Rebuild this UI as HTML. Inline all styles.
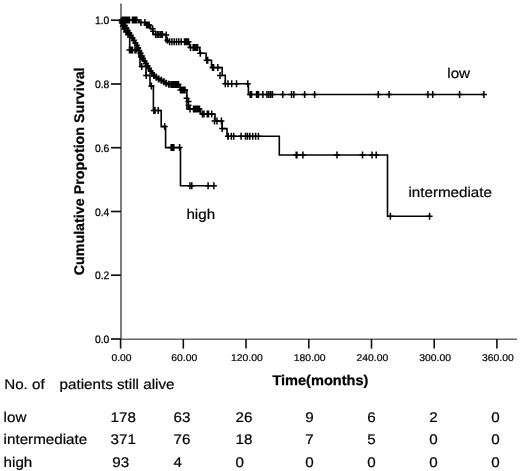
<!DOCTYPE html>
<html><head><meta charset="utf-8"><style>
html,body{margin:0;padding:0;background:#fff;}
body{width:520px;height:471px;overflow:hidden;position:relative;}
svg{position:absolute;left:0;top:0;will-change:transform;}
text{font-family:"Liberation Sans",sans-serif;fill:#000;text-rendering:geometricPrecision;}
.ty{font-size:10.9px;stroke:#000;stroke-width:0.25px;}
.tx{font-size:9.8px;stroke:#000;stroke-width:0.2px;}
.lb{font-size:14px;stroke:#000;stroke-width:0.2px;}
.bt{font-weight:bold;stroke:#000;stroke-width:0.25px;}
.c{fill:none;stroke:#000;stroke-width:1.6;}
.t{fill:none;stroke:#000;stroke-width:1.5;}
</style></head><body>
<svg width="520" height="471" viewBox="0 0 520 471">
<line x1="121" y1="3.5" x2="121" y2="339" stroke="#7d7d7d" stroke-width="2"/>
<line x1="121" y1="339.2" x2="517" y2="339.2" stroke="#666" stroke-width="1.5"/>
<line x1="111" y1="20.2" x2="121" y2="20.2" stroke="#111" stroke-width="1.7"/>
<text transform="translate(109.3,24.2) scale(0.95,1)" text-anchor="end" class="ty">1.0</text>
<line x1="111" y1="84.0" x2="121" y2="84.0" stroke="#111" stroke-width="1.7"/>
<text transform="translate(109.3,88.0) scale(0.95,1)" text-anchor="end" class="ty">0.8</text>
<line x1="111" y1="147.7" x2="121" y2="147.7" stroke="#111" stroke-width="1.7"/>
<text transform="translate(109.3,151.7) scale(0.95,1)" text-anchor="end" class="ty">0.6</text>
<line x1="111" y1="211.5" x2="121" y2="211.5" stroke="#111" stroke-width="1.7"/>
<text transform="translate(109.3,215.5) scale(0.95,1)" text-anchor="end" class="ty">0.4</text>
<line x1="111" y1="275.2" x2="121" y2="275.2" stroke="#111" stroke-width="1.7"/>
<text transform="translate(109.3,279.2) scale(0.95,1)" text-anchor="end" class="ty">0.2</text>
<line x1="111" y1="339.0" x2="121" y2="339.0" stroke="#111" stroke-width="1.7"/>
<text transform="translate(109.3,343.0) scale(0.95,1)" text-anchor="end" class="ty">0.0</text>
<line x1="120.6" y1="339" x2="120.6" y2="348.6" stroke="#111" stroke-width="1.6"/>
<text transform="translate(121.5,360.9) scale(1.06,1)" text-anchor="middle" class="tx">0.00</text>
<line x1="183.3" y1="339" x2="183.3" y2="348.6" stroke="#111" stroke-width="1.6"/>
<text transform="translate(184.2,360.9) scale(1.06,1)" text-anchor="middle" class="tx">60.00</text>
<line x1="246.0" y1="339" x2="246.0" y2="348.6" stroke="#111" stroke-width="1.6"/>
<text transform="translate(246.9,360.9) scale(1.06,1)" text-anchor="middle" class="tx">120.00</text>
<line x1="308.8" y1="339" x2="308.8" y2="348.6" stroke="#111" stroke-width="1.6"/>
<text transform="translate(309.7,360.9) scale(1.06,1)" text-anchor="middle" class="tx">180.00</text>
<line x1="371.5" y1="339" x2="371.5" y2="348.6" stroke="#111" stroke-width="1.6"/>
<text transform="translate(372.4,360.9) scale(1.06,1)" text-anchor="middle" class="tx">240.00</text>
<line x1="434.2" y1="339" x2="434.2" y2="348.6" stroke="#111" stroke-width="1.6"/>
<text transform="translate(435.1,360.9) scale(1.06,1)" text-anchor="middle" class="tx">300.00</text>
<line x1="496.9" y1="339" x2="496.9" y2="348.6" stroke="#111" stroke-width="1.6"/>
<text transform="translate(497.8,360.9) scale(1.06,1)" text-anchor="middle" class="tx">360.00</text>
<polyline points="121.0,20.0 124.5,25.0 128.0,30.9 133.0,38.9 137.0,45.5 139.8,51.7 142.4,57.5 145.8,63.3 149.5,69.2 153.2,75.0 157.5,78.2 162.3,80.8 166.5,83.5 170.0,84.5" fill="none" stroke="#000" stroke-width="1.8" stroke-linejoin="round"/>
<path d="M121.6 17.3V24.3M118.6 20.8H124.6M123.2 19.7V26.7M120.2 23.2H126.2M124.9 22.1V29.1M121.9 25.6H127.9M126.3 24.6V31.6M123.3 28.1H129.3M127.8 27.1V34.1M124.8 30.6H130.8M129.3 29.6V36.6M126.3 33.1H132.3M130.9 32.0V39.0M127.9 35.5H133.9M132.4 34.5V41.5M129.4 38.0H135.4M133.9 36.9V43.9M130.9 40.4H136.9M135.4 39.4V46.4M132.4 42.9H138.4M136.9 41.9V48.9M133.9 45.4H139.9M138.1 44.5V51.5M135.1 48.0H141.1M139.3 47.2V54.2M136.3 50.7H142.3M140.5 49.8V56.8M137.5 53.3H143.5M141.7 52.5V59.5M138.7 56.0H144.7M143.0 55.1V62.1M140.0 58.6H146.0M144.5 57.6V64.6M141.5 61.1H147.5M146.0 60.1V67.1M143.0 63.6H149.0M147.5 62.5V69.5M144.5 66.0H150.5M149.0 65.0V72.0M146.0 68.5H152.0M150.6 67.4V74.4M147.6 70.9H153.6M152.2 69.9V76.9M149.2 73.4H155.2M154.0 72.1V79.1M151.0 75.6H157.0M156.3 73.8V80.8M153.3 77.3H159.3M158.7 75.4V82.4M155.7 78.9H161.7M161.3 76.7V83.7M158.3 80.2H164.3M163.8 78.2V85.2M160.8 81.7H166.8M166.2 79.8V86.8M163.2 83.3H169.2M168.9 80.7V87.7M165.9 84.2H171.9" fill="none" stroke="#000" stroke-width="1.9"/>
<polyline points="121.0,20.0 139.0,20.0 139.0,22.5 145.5,22.5 145.5,25.0 150.5,25.0 150.5,28.7 153.0,28.7 153.0,34.4 166.0,34.4 166.0,41.7 189.5,41.7 189.5,47.5 199.8,47.5 199.8,53.3 206.1,53.3 206.1,60.2 211.5,60.2 211.5,67.6 222.2,67.6 222.2,75.4 225.3,75.4 225.3,83.8 248.4,83.8 248.4,94.5 484.0,94.5" class="c"/>
<path d="M122.5 16.5V23.5M119.5 20.0H125.5M124.0 16.5V23.5M121.0 20.0H127.0M125.5 16.5V23.5M122.5 20.0H128.5M127.0 16.5V23.5M124.0 20.0H130.0M128.5 16.5V23.5M125.5 20.0H131.5M129.5 16.5V23.5M126.5 20.0H132.5M132.5 16.5V23.5M129.5 20.0H135.5M134.0 16.5V23.5M131.0 20.0H137.0M135.5 16.5V23.5M132.5 20.0H138.5M136.8 16.5V23.5M133.8 20.0H139.8M140.9 19.0V26.0M137.9 22.5H143.9M144.9 19.0V26.0M141.9 22.5H147.9M146.6 21.5V28.5M143.6 25.0H149.6M147.8 21.5V28.5M144.8 25.0H150.8M149.2 21.5V28.5M146.2 25.0H152.2M152.6 25.2V32.2M149.6 28.7H155.6M153.2 27.8V34.8M150.2 31.3H156.2M155.6 30.9V37.9M152.6 34.4H158.6M157.4 30.9V37.9M154.4 34.4H160.4M159.0 30.9V37.9M156.0 34.4H162.0M160.8 30.9V37.9M157.8 34.4H163.8M162.4 30.9V37.9M159.4 34.4H165.4M166.3 31.5V38.5M163.3 35.0H169.3M167.4 36.8V43.8M164.4 40.3H170.4M169.6 38.2V45.2M166.6 41.7H172.6M171.9 38.2V45.2M168.9 41.7H174.9M174.2 38.2V45.2M171.2 41.7H177.2M176.5 38.2V45.2M173.5 41.7H179.5M178.8 38.2V45.2M175.8 41.7H181.8M181.2 38.2V45.2M178.2 41.7H184.2M184.5 38.2V45.2M181.5 41.7H187.5M185.5 38.2V45.2M182.5 41.7H188.5M186.5 38.2V45.2M183.5 41.7H189.5M187.5 38.2V45.2M184.5 41.7H190.5M188.5 38.2V45.2M185.5 41.7H191.5M190.5 44.0V51.0M187.5 47.5H193.5M193.2 44.0V51.0M190.2 47.5H196.2M194.6 44.0V51.0M191.6 47.5H197.6M196.2 44.0V51.0M193.2 47.5H199.2M197.6 44.0V51.0M194.6 47.5H200.6M200.3 49.8V56.8M197.3 53.3H203.3M206.7 56.7V63.7M203.7 60.2H209.7M207.7 56.7V63.7M204.7 60.2H210.7M212.5 64.1V71.1M209.5 67.6H215.5M213.6 64.1V71.1M210.6 67.6H216.6M217.8 64.1V71.1M214.8 67.6H220.8M220.0 71.9V78.9M217.0 75.4H223.0M225.3 80.3V87.3M222.3 83.8H228.3M228.0 80.3V87.3M225.0 83.8H231.0M231.7 80.3V87.3M228.7 83.8H234.7M236.5 80.3V87.3M233.5 83.8H239.5M247.8 80.3V87.3M244.8 83.8H250.8M250.2 91.0V98.0M247.2 94.5H253.2M251.5 91.0V98.0M248.5 94.5H254.5M256.6 91.0V98.0M253.6 94.5H259.6M257.7 91.0V98.0M254.7 94.5H260.7M258.5 91.0V98.0M255.5 94.5H261.5M262.9 91.0V98.0M259.9 94.5H265.9M266.9 91.0V98.0M263.9 94.5H269.9M268.8 91.0V98.0M265.8 94.5H271.8M270.6 91.0V98.0M267.6 94.5H273.6M272.4 91.0V98.0M269.4 94.5H275.4M282.8 91.0V98.0M279.8 94.5H285.8M291.5 91.0V98.0M288.5 94.5H294.5M293.8 91.0V98.0M290.8 94.5H296.8M304.6 91.0V98.0M301.6 94.5H307.6M314.6 91.0V98.0M311.6 94.5H317.6M378.3 91.0V98.0M375.3 94.5H381.3M389.1 91.0V98.0M386.1 94.5H392.1M427.9 91.0V98.0M424.9 94.5H430.9M432.7 91.0V98.0M429.7 94.5H435.7M459.6 91.0V98.0M456.6 94.5H462.6M483.9 91.0V98.0M480.9 94.5H486.9" class="t"/>
<polyline points="170.0,84.5 180.0,84.5 180.0,90.0 186.9,90.0 186.9,109.0 200.5,109.0 200.5,114.1 215.0,114.1 215.0,121.0 222.2,121.0 222.2,128.6 227.0,128.6 227.0,136.2 279.3,136.2 279.3,155.0 387.5,155.0 387.5,216.2 429.6,216.2" class="c"/>
<path d="M171.0 81.0V88.0M168.0 84.5H174.0M172.5 81.0V88.0M169.5 84.5H175.5M174.0 81.0V88.0M171.0 84.5H177.0M175.5 81.0V88.0M172.5 84.5H178.5M177.0 81.0V88.0M174.0 84.5H180.0M178.5 81.0V88.0M175.5 84.5H181.5M180.5 86.5V93.5M177.5 90.0H183.5M182.0 86.5V93.5M179.0 90.0H185.0M183.5 86.5V93.5M180.5 90.0H186.5M185.0 86.5V93.5M182.0 90.0H188.0M186.6 94.7V101.7M183.6 98.2H189.6M188.5 97.9V104.9M185.5 101.4H191.5M188.5 101.7V108.7M185.5 105.2H191.5M190.0 105.5V112.5M187.0 109.0H193.0M193.5 105.5V112.5M190.5 109.0H196.5M195.0 105.5V112.5M192.0 109.0H198.0M196.5 105.5V112.5M193.5 109.0H199.5M198.0 105.5V112.5M195.0 109.0H201.0M199.5 105.5V112.5M196.5 109.0H202.5M202.4 110.6V117.6M199.4 114.1H205.4M204.0 110.6V117.6M201.0 114.1H207.0M207.3 110.6V117.6M204.3 114.1H210.3M208.5 110.6V117.6M205.5 114.1H211.5M211.7 110.6V117.6M208.7 114.1H214.7M214.5 117.5V124.5M211.5 121.0H217.5M217.0 117.5V124.5M214.0 121.0H220.0M221.4 117.5V124.5M218.4 121.0H224.4M222.2 125.1V132.1M219.2 128.6H225.2M227.9 132.7V139.7M224.9 136.2H230.9M228.2 132.7V139.7M225.2 136.2H231.2M231.3 132.7V139.7M228.3 136.2H234.3M233.7 132.7V139.7M230.7 136.2H236.7M241.1 132.7V139.7M238.1 136.2H244.1M245.5 132.7V139.7M242.5 136.2H248.5M247.5 132.7V139.7M244.5 136.2H250.5M249.8 132.7V139.7M246.8 136.2H252.8M252.7 132.7V139.7M249.7 136.2H255.7M255.6 132.7V139.7M252.6 136.2H258.6M258.4 132.7V139.7M255.4 136.2H261.4M296.2 151.5V158.5M293.2 155.0H299.2M296.9 151.5V158.5M293.9 155.0H299.9M302.9 151.5V158.5M299.9 155.0H305.9M337.0 151.5V158.5M334.0 155.0H340.0M362.5 151.5V158.5M359.5 155.0H365.5M372.0 151.5V158.5M369.0 155.0H375.0M376.2 151.5V158.5M373.2 155.0H379.2M390.4 212.7V219.7M387.4 216.2H393.4M429.6 212.7V219.7M426.6 216.2H432.6" class="t"/>
<polyline points="121.0,20.0 121.8,23.0 122.8,26.0 124.2,29.0 126.0,32.0 128.0,34.5 129.7,34.5 129.7,50.0 139.0,50.0 139.0,57.0 140.0,57.0 140.0,66.5 146.0,66.5 146.0,75.4 150.0,75.4 150.0,86.0 153.4,86.0 153.4,110.5 161.2,110.5 161.2,126.6 165.6,126.6 165.6,147.6 180.5,147.6 180.5,185.7 213.9,185.7" class="c"/>
<path d="M121.8 19.5V26.5M118.8 23.0H124.8M122.8 22.5V29.5M119.8 26.0H125.8M124.2 25.5V32.5M121.2 29.0H127.2M126.0 28.5V35.5M123.0 32.0H129.0M128.0 31.0V38.0M125.0 34.5H131.0M129.5 46.5V53.5M126.5 50.0H132.5M131.0 46.5V53.5M128.0 50.0H134.0M132.5 46.5V53.5M129.5 50.0H135.5M135.0 46.5V53.5M132.0 50.0H138.0M136.0 46.5V53.5M133.0 50.0H139.0M141.7 53.5V60.5M138.7 57.0H144.7M141.7 63.0V70.0M138.7 66.5H144.7M146.2 71.9V78.9M143.2 75.4H149.2M151.4 82.5V89.5M148.4 86.0H154.4M153.8 107.0V114.0M150.8 110.5H156.8M155.0 107.0V114.0M152.0 110.5H158.0M158.2 107.0V114.0M155.2 110.5H161.2M164.7 123.1V130.1M161.7 126.6H167.7M171.2 144.1V151.1M168.2 147.6H174.2M172.3 144.1V151.1M169.3 147.6H175.3M173.8 144.1V151.1M170.8 147.6H176.8M179.6 144.1V151.1M176.6 147.6H182.6M190.0 182.2V189.2M187.0 185.7H193.0M191.8 182.2V189.2M188.8 185.7H194.8M208.1 182.2V189.2M205.1 185.7H211.1M213.9 182.2V189.2M210.9 185.7H216.9" class="t"/>
<text transform="translate(447.3,78.1) scale(1.085,1)" class="lb">low</text>
<text transform="translate(408.4,196.5) scale(1.085,1)" class="lb">intermediate</text>
<text transform="translate(186.4,218.9) scale(1.085,1)" class="lb">high</text>
<text transform="translate(84.3,275.3) rotate(-90) scale(1.02,1)" class="bt" style="font-size:14px">Cumulative Propotion Survival</text>
<text transform="translate(272.4,384.6) scale(1.04,1)" class="bt" style="font-size:14px">Time(months)</text>
<text transform="translate(4.2,388.7) scale(1.085,1)" class="lb">No. of</text>
<text transform="translate(59.6,388.7) scale(1.085,1)" class="lb">patients still alive</text>
<text transform="translate(3.6,422.3) scale(1.085,1)" class="lb">low</text>
<text transform="translate(110.6,422.3) scale(1.085,1)" class="lb">178</text>
<text transform="translate(173.6,422.3) scale(1.085,1)" class="lb">63</text>
<text transform="translate(235.6,422.3) scale(1.085,1)" class="lb">26</text>
<text transform="translate(305.2,422.3) scale(1.085,1)" class="lb">9</text>
<text transform="translate(367.2,422.3) scale(1.085,1)" class="lb">6</text>
<text transform="translate(429.2,422.3) scale(1.085,1)" class="lb">2</text>
<text transform="translate(491.2,422.3) scale(1.085,1)" class="lb">0</text>
<text transform="translate(3.6,443.9) scale(1.085,1)" class="lb">intermediate</text>
<text transform="translate(110.6,443.9) scale(1.085,1)" class="lb">371</text>
<text transform="translate(173.6,443.9) scale(1.085,1)" class="lb">76</text>
<text transform="translate(235.6,443.9) scale(1.085,1)" class="lb">18</text>
<text transform="translate(305.2,443.9) scale(1.085,1)" class="lb">7</text>
<text transform="translate(367.2,443.9) scale(1.085,1)" class="lb">5</text>
<text transform="translate(429.2,443.9) scale(1.085,1)" class="lb">0</text>
<text transform="translate(491.2,443.9) scale(1.085,1)" class="lb">0</text>
<text transform="translate(3.6,466.5) scale(1.085,1)" class="lb">high</text>
<text transform="translate(112.2,466.5) scale(1.085,1)" class="lb">93</text>
<text transform="translate(173.6,466.5) scale(1.085,1)" class="lb">4</text>
<text transform="translate(235.6,466.5) scale(1.085,1)" class="lb">0</text>
<text transform="translate(305.2,466.5) scale(1.085,1)" class="lb">0</text>
<text transform="translate(367.2,466.5) scale(1.085,1)" class="lb">0</text>
<text transform="translate(429.2,466.5) scale(1.085,1)" class="lb">0</text>
<text transform="translate(491.2,466.5) scale(1.085,1)" class="lb">0</text>
</svg>
</body></html>
